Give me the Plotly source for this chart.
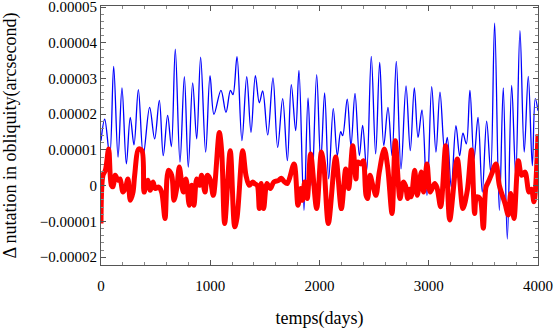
import plotly.graph_objects as go

# blue series: days / value (arcsecond)
blue_days = [0, 34, 80, 116, 156, 192, 232, 268, 302, 342, 387, 445, 491, 534,
             570, 610, 644, 680, 723, 763, 799, 839, 876, 912, 958, 998, 1034,
             1098, 1144, 1185, 1208, 1245, 1290, 1334, 1373, 1413, 1449, 1480,
             1526, 1574, 1617, 1663, 1706, 1742, 1782, 1812, 1858, 1895, 1931,
             1974, 2011, 2047, 2084, 2126, 2163, 2194, 2212, 2254, 2288, 2325,
             2365, 2395, 2432, 2474, 2514, 2551, 2588, 2627, 2664, 2703, 2746,
             2792, 2831, 2868, 2902, 2938, 2984, 3027, 3066, 3103, 3146, 3170,
             3206, 3249, 3283, 3313, 3344, 3377, 3414, 3451, 3490, 3530, 3567,
             3603, 3646, 3682, 3719, 3759, 3796, 3835, 3874, 3911, 3948, 3975,
             4000]
blue_vals = [1.26e-5, 1.86e-5, 0.84e-5, 3.34e-5, 0.80e-5, 2.74e-5, 0.61e-5,
             1.91e-5, 1.14e-5, 2.69e-5, 0.86e-5, 2.19e-5, 1.31e-5, 2.39e-5,
             0.84e-5, 1.97e-5, 1.09e-5, 3.82e-5, 0.66e-5, 3.05e-5, 0.52e-5,
             2.88e-5, 1.31e-5, 3.60e-5, 0.94e-5, 3.08e-5, 2.00e-5, 2.67e-5,
             2.05e-5, 2.67e-5, 2.55e-5, 3.61e-5, 1.26e-5, 3.05e-5, 1.49e-5,
             3.08e-5, 2.32e-5, 2.65e-5, 1.42e-5, 3.02e-5, 1.07e-5, 2.44e-5,
             0.70e-5, 2.83e-5, 1.54e-5, 3.23e-5, -0.69e-5, 2.46e-5, 0.01e-5,
             3.11e-5, 0.66e-5, 2.60e-5, 0.19e-5, 2.16e-5, 0.84e-5, 1.51e-5,
             1.40e-5, 2.42e-5, 1.12e-5, 2.58e-5, 0.84e-5, 1.69e-5, 0.43e-5,
             3.62e-5, 0.89e-5, 3.45e-5, 1.12e-5, 2.19e-5, 0.84e-5, 3.48e-5,
             0.47e-5, 2.79e-5, 0.98e-5, 2.74e-5, 1.35e-5, 2.12e-5, -0.27e-5,
             2.77e-5, 0.94e-5, 2.62e-5, 0.94e-5, 1.35e-5, -0.04e-5, 1.68e-5,
             0.84e-5, 1.47e-5, 1.17e-5, 2.67e-5, 0.75e-5, 1.91e-5, -0.18e-5,
             1.81e-5, 0.38e-5, 4.55e-5, -0.69e-5, 2.74e-5, -1.49e-5, 2.81e-5,
             0.29e-5, 4.34e-5, 0.94e-5, 3.06e-5, 0.56e-5, 2.44e-5, 2.10e-5]

# red series
red_days = [0, 18, 40, 70, 95, 110, 131, 156, 174, 201, 222, 247, 268, 293, 308,
            345, 375, 394, 415, 430, 451, 476, 497, 528, 555, 586, 616, 647, 668,
            693, 717, 753, 778, 808, 830, 851, 876, 900, 921, 952, 973, 998,
            1028, 1083, 1105, 1132, 1183, 1224, 1245, 1297, 1327, 1357, 1389,
            1410, 1430, 1449, 1467, 1489, 1519, 1550, 1581, 1626, 1650, 1675,
            1705, 1767, 1803, 1828, 1845, 1864, 1888, 1919, 1974, 2017, 2040,
            2081, 2148, 2200, 2240, 2267, 2304, 2334, 2349, 2380, 2401, 2426,
            2441, 2462, 2492, 2517, 2547, 2593, 2624, 2664, 2694, 2737, 2767,
            2787, 2807, 2822, 2840, 2871, 2895, 2932, 2953, 2984, 3014, 3054,
            3075, 3109, 3155, 3192, 3261, 3313, 3353, 3391, 3420, 3438, 3469,
            3499, 3524, 3545, 3576, 3615, 3646, 3698, 3728, 3750, 3780, 3820,
            3850, 3881, 3918, 3940, 3963, 4000]
red_vals = [-1.06e-5, 0.29e-5, 0.43e-5, 1.03e-5, 0.01e-5, -0.03e-5, 0.29e-5,
            0.15e-5, 0.19e-5, -0.18e-5, -0.08e-5, 0.19e-5, -0.41e-5, -0.18e-5,
            0.29e-5, 1.03e-5, 0.98e-5, -0.18e-5, 0.06e-5, 0.15e-5, -0.13e-5,
            0.10e-5, -0.08e-5, -0.04e-5, -0.18e-5, -0.92e-5, 0.43e-5, 0.29e-5,
            -0.41e-5, -0.08e-5, 0.52e-5, -0.18e-5, 0.19e-5, -0.55e-5, 0.01e-5,
            -0.55e-5, 0.19e-5, 0.01e-5, 0.29e-5, -0.18e-5, 0.29e-5, 0.19e-5,
            -0.27e-5, 1.49e-5, 0.94e-5, -1.06e-5, 0.98e-5, -1.15e-5, -0.90e-5,
            0.98e-5, 0.29e-5, 0.01e-5, 0.10e-5, 0.05e-5, 0.01e-5, -0.64e-5,
            0.06e-5, -0.64e-5, 0.06e-5, -0.08e-5, 0.10e-5, 0.15e-5, 0.21e-5,
            0.12e-5, 0.06e-5, 0.61e-5, -0.55e-5, -0.08e-5, -0.41e-5, 0.10e-5,
            -0.36e-5, 0.89e-5, -0.64e-5, 0.94e-5, 0.56e-5, -1.06e-5, 0.80e-5,
            -0.64e-5, 0.47e-5, -0.08e-5, 1.12e-5, 0.19e-5, 0.66e-5, 0.61e-5,
            0.70e-5, -0.27e-5, -0.36e-5, 0.29e-5, -0.04e-5, -0.27e-5, 0.38e-5,
            1.03e-5, 0.52e-5, -0.78e-5, 1.26e-5, -0.36e-5, 0.10e-5, 0.00e-5,
            -0.36e-5, -0.10e-5, -0.31e-5, 0.43e-5, -0.27e-5, 0.38e-5, -0.18e-5,
            0.61e-5, -0.18e-5, 0.06e-5, -0.05e-5, -0.59e-5, 1.12e-5, -0.96e-5,
            0.75e-5, -0.64e-5, -0.13e-5, 1.00e-5, -0.78e-5, -0.31e-5, -0.36e-5,
            -1.19e-5, -0.04e-5, 0.10e-5, 0.33e-5, 0.61e-5, 0.01e-5, -0.50e-5,
            -0.82e-5, -0.22e-5, -0.92e-5, 0.70e-5, 0.29e-5, 0.38e-5, -0.18e-5,
            -0.10e-5, -0.45e-5, 1.44e-5]

y_ticks = [-2e-5, -1e-5, 0, 1e-5, 2e-5, 3e-5, 4e-5, 5e-5]
y_labels = ["\u22120.00002", "\u22120.00001", "0", "0.00001", "0.00002",
            "0.00003", "0.00004", "0.00005"]
x_ticks = [0, 1000, 2000, 3000, 4000]

font = dict(family="Liberation Serif", size=15, color="black")
frame = "#555555"

fig = go.Figure()
fig.add_trace(go.Scatter(x=blue_days, y=blue_vals, mode="lines",
                         line=dict(color="#0000ff", width=1.3, shape="spline", smoothing=1.0)))
fig.add_trace(go.Scatter(x=red_days, y=red_vals, mode="lines",
                         line=dict(color="#ff0000", width=5, shape="spline", smoothing=0.9)))

fig.update_layout(
    width=555, height=330,
    margin=dict(l=101, r=17, t=6, b=65),
    paper_bgcolor="white", plot_bgcolor="white",
    showlegend=False,
    font=font,
)
fig.update_xaxes(
    range=[0, 4000], tickvals=x_ticks, automargin=False,
    showgrid=False, zeroline=False,
    showline=True, linecolor=frame, linewidth=1, mirror="ticks",
    ticks="inside", ticklen=5, tickcolor=frame, ticklabelstandoff=7,
    ticklabeloverflow="allow",
    minor=dict(dtick=200, tick0=0, ticks="inside", ticklen=3, tickcolor="#888888"),
    title=dict(text="temps(days)", standoff=18),
)
fig.update_yaxes(
    range=[-2.22e-5, 5.03e-5], tickvals=y_ticks, ticktext=y_labels, automargin=False,
    showgrid=False, zeroline=False,
    showline=True, linecolor=frame, linewidth=1, mirror="ticks",
    ticks="inside", ticklen=5, tickcolor=frame, ticklabeloverflow="allow",
    minor=dict(dtick=2e-6, tick0=0, ticks="inside", ticklen=3, tickcolor="#888888"),
    title=dict(text="\u0394 nutation in obliquity(arcsecond)", standoff=20),
)

# page body has an 8px default margin; drop it so the figure fills the window
fig.write_html("out.html", config={"displayModeBar": False},
               post_script="document.body.style.margin='0px';")
